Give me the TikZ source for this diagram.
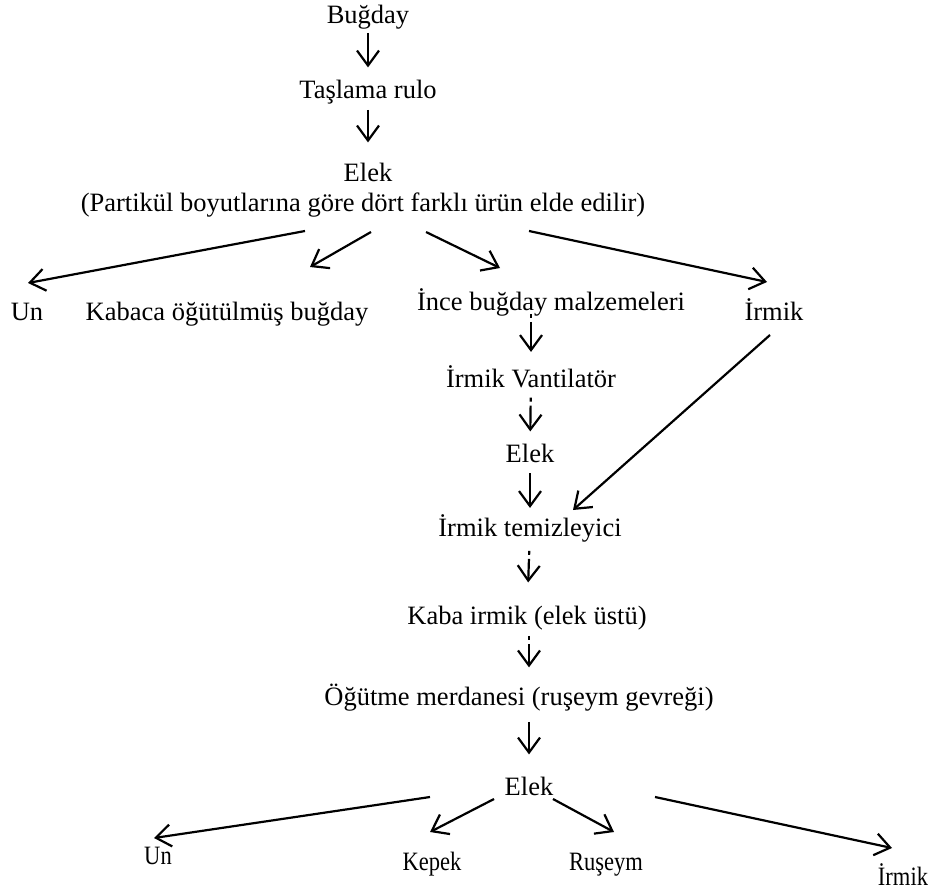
\documentclass[tikz,border=0pt]{standalone}
\usepackage{fontspec}
\setmainfont{Liberation Serif}
\newfontfamily\narrowserif[FakeStretch=0.85]{Liberation Serif}
\usetikzlibrary{arrows.meta}

\begin{document}
\begin{tikzpicture}[x=1pt, y=-1pt, font=\fontsize{26.5}{30}\selectfont,
  lbl/.style={inner sep=0pt, anchor=base},
  slim/.style={lbl, font=\fontsize{26.5}{30}\narrowserif},
  flow/.style={-{Straight Barb[length=15pt,width=22pt]}, line width=2.2pt},
  dotflow/.style={flow, dash pattern=on 4pt off 4pt on 200pt}]
  \useasboundingbox (0,0) rectangle (941,890);

  % Main column.
  \node[lbl] (bugday) at (368,24) {Buğday};
  \node[lbl] (taslama) at (368,99) {Taşlama rulo};
  \node[lbl] (elek) at (368,182) {Elek};
  \node[lbl] (partikul) at (363,212) {(Partikül boyutlarına göre dört farklı ürün elde edilir)};
  \draw[flow, shorten <=3pt, shorten >=13pt] (bugday) -- (taslama);
  \draw[flow, shorten <=5pt, shorten >=21pt] (taslama) -- (elek);

  % Four products of the first sieve.
  \node[lbl] (un) at (27,320) {Un};
  \node[lbl] (kabaca) at (227,320) {Kabaca öğütülmüş buğday};
  \node[lbl] (ince) at (551,310) {İnce buğday malzemeleri};
  \node[lbl] (irmik) at (774,320) {İrmik};
  \coordinate (p1) at (305,231);
  \coordinate (p2) at (371,232);
  \coordinate (p3) at (426,232);
  \coordinate (p4) at (529,231);
  \coordinate (u1) at (28,283);
  \coordinate (k1) at (310,267);
  \coordinate (i1) at (500,268);
  \coordinate (r1) at (767,282);
  \draw[flow] (p1) -- (u1);
  \draw[flow] (p2) -- (k1);
  \draw[flow] (p3) -- (i1);
  \draw[flow] (p4) -- (r1);

  % Semolina line.
  \node[lbl] (vantilator) at (531,387) {İrmik Vantilatör};
  \node[lbl] (elek2) at (530,462) {Elek};
  \node[lbl] (temiz) at (530,536) {İrmik temizleyici};
  \node[lbl] (kaba) at (527,624) {Kaba irmik (elek üstü)};
  \node[lbl] (ogutme) at (519,705) {Öğütme merdanesi (ruşeym gevreği)};
  \node[lbl] (elek3) at (529,795) {Elek};
  \draw[dotflow, shorten <=-2pt, shorten >=13pt] (vantilator |- ince.south) -- (vantilator);
  \draw[dotflow, shorten <=10pt, shorten >=12pt] (vantilator) -- (elek2);
  \draw[flow, shorten <=11pt, shorten >=6pt] (elek2) -- (temiz);
  \draw[dotflow, shorten <=9pt, shorten >=23pt] (temiz) -- (kaba);
  \draw[dotflow, shorten <=6pt, shorten >=16pt] (kaba.south -| elek3) -- (elek3 |- ogutme.north);
  \draw[flow, shorten <=11pt, shorten >=22pt] (elek3 |- ogutme.south) -- (elek3);
  \coordinate (r2) at (770,335);
  \coordinate (t1) at (573,510);
  \draw[flow] (r2) -- (t1);

  % Products of the last sieve.
  \node[slim] (un2) at (158,864) {Un};
  \node[slim] (kepek) at (432,870) {Kepek};
  \node[slim] (ruseym) at (606,870) {Ruşeym};
  \node[slim] (irmik2) at (903,885) {İrmik};
  \coordinate (e1) at (430,797);
  \coordinate (e2) at (494,799);
  \coordinate (e3) at (553,799);
  \coordinate (e4) at (655,797);
  \coordinate (u2) at (154,838);
  \coordinate (k2) at (430,832);
  \coordinate (s2) at (614,832);
  \coordinate (m2) at (892,848);
  \draw[flow] (e1) -- (u2);
  \draw[flow] (e2) -- (k2);
  \draw[flow] (e3) -- (s2);
  \draw[flow] (e4) -- (m2);
\end{tikzpicture}
\end{document}
